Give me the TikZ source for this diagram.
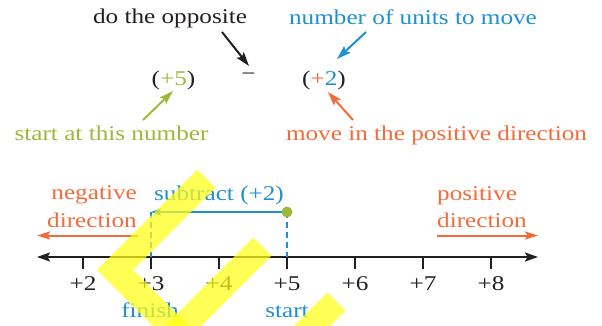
\documentclass[tikz,border=0pt]{standalone}
\usepackage{fontspec}
\setmainfont{Liberation Serif}[FakeStretch=1.2]
\usetikzlibrary{arrows.meta}
\definecolor{cblue}{HTML}{1E8FCF}
\definecolor{corange}{HTML}{F26B3A}
\definecolor{cgreen}{HTML}{9DB83A}
\definecolor{cblack}{HTML}{231F20}
\definecolor{hilite}{RGB}{255,255,20}
\tikzset{
  txt/.style={inner sep=0pt, anchor=base, font=\fontsize{21}{26}\selectfont},
  callout/.style={line width=2pt, -{Stealth[length=14pt,width=9pt,inset=2.5pt]}},
  dirarrow/.style={line width=2pt, corange, -{Stealth[length=13pt,width=8pt,inset=2.5pt]}},
  axisline/.style={line width=2pt, cblack, {Stealth[length=13pt,width=9pt,inset=2.5pt]}-{Stealth[length=13pt,width=9pt,inset=2.5pt]}},
  tick/.style={line width=1.8pt, cblack},
  guide/.style={line width=1.6pt, cblue, dash pattern=on 6pt off 4pt},
  band/.style={hilite, line width=25.5pt, line join=miter, line cap=butt}
}
\begin{document}
\begin{tikzpicture}[x=1pt,y=-1pt]
\useasboundingbox (0,0) rectangle (602,325);
% top expression
\node[txt, cblack] (opp) at (170,23.5) {do the opposite};
\node[txt, cblue] (units) at (413,24) {number of units to move};
\node[txt] (five) at (173.5,85) {\textcolor{cblack}{(}\textcolor{cgreen}{+5}\textcolor{cblack}{)}};
\node[txt, cblack] (minus) at (248.5,80.5) {−};
\node[txt] (two) at (324,85) {\textcolor{cblack}{(}\textcolor{corange}{+}\textcolor{cblue}{2}\textcolor{cblack}{)}};
\node[txt, cgreen] (startnum) at (111.5,140) {start at this number};
\node[txt, corange] (movepos) at (436.5,140) {move in the positive direction};
% callout arrows
\coordinate (oppS) at (222,32);   \coordinate (oppT) at (249,66);
\coordinate (unitsS) at (366,32); \coordinate (unitsT) at (337,59);
\coordinate (greenS) at (143,120);\coordinate (greenT) at (173,91);
\coordinate (orS) at (353,120);   \coordinate (orT) at (328,92);
\draw[callout, cblack] (oppS) -- (oppT);
\draw[callout, cblue] (unitsS) -- (unitsT);
\draw[callout, cgreen] (greenS) -- (greenT);
\draw[callout, corange] (orS) -- (orT);
% direction labels
\node[txt, corange, anchor=base east] (neg1) at (137,199.5) {negative};
\node[txt, corange, anchor=base east] (neg2) at (137,227) {direction};
\node[txt, corange, anchor=base west] (pos1) at (437,200) {positive};
\node[txt, corange, anchor=base west] (pos2) at (437,227) {direction};
\coordinate (negR) at (138,235.5); \coordinate (negL) at (37,235.5);
\coordinate (posL) at (437,235.5); \coordinate (posR) at (538,235.5);
\draw[dirarrow] (negR) -- (negL);
\draw[dirarrow] (posL) -- (posR);
% number line
\coordinate (axL) at (37,257); \coordinate (axR) at (538,257);
\draw[axisline] (axL) -- (axR);
\foreach \n in {2,...,8}{
  \pgfmathsetmacro{\xx}{83+68*(\n-2)}
  \coordinate (t\n) at (\xx,257);
  \draw[tick] (t\n) -- ++(0,11.5);
  \node[txt, cblack] (l\n) at (\xx,290.5) {+\n};
}
% move
\coordinate (top5) at (287,212);
\coordinate (top3) at (151,212);
\draw[guide] (top5) -- (t5);
\draw[guide] (top3) -- (t3);
\draw[line width=1.6pt, cblue, -{Stealth[length=10pt,width=7pt,inset=2pt]}] (top5) -- (top3);
\draw[line width=1.6pt, cblue] (top3) -- ++(0,5);
\fill[cgreen] (top5) circle (5.5);
\node[txt, cblue] (sub) at (219,200) {subtract (+2)};
\node[txt, cblue] (fin) at (150,317) {finish};
\node[txt, cblue] (st) at (287,317) {start};
% highlighter overlay
\begin{scope}[opacity=0.72]
\clip (0,0) rectangle (602,325);
\draw[band] (206.5,178.5) -- (115,270) -- (180,335);
\draw[band] (262.5,246.5) -- (172,337);
\draw[band] (336.5,301.5) -- (300,338);
\end{scope}
\end{tikzpicture}
\end{document}
